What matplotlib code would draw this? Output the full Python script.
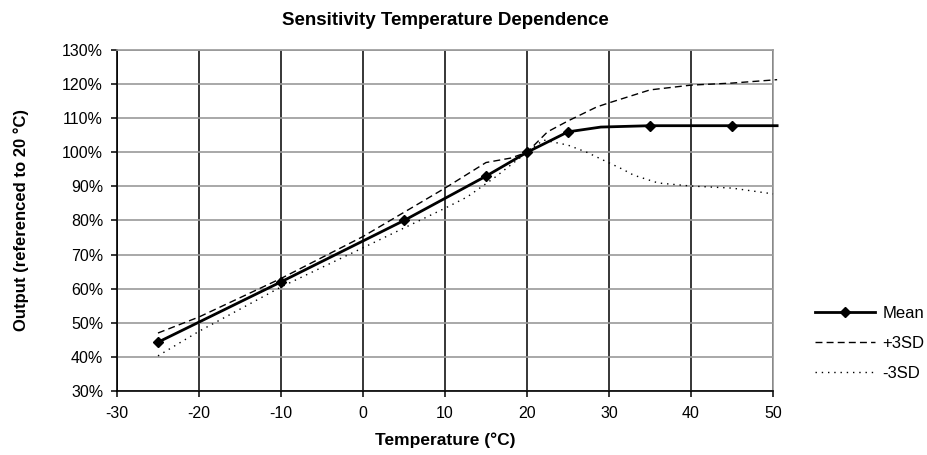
"""
Sensitivity temperature dependence chart (mean and +/-3SD)
"""
import matplotlib
matplotlib.use('Agg')
import matplotlib.pyplot as plt
from matplotlib.ticker import FuncFormatter, MultipleLocator

plt.rcParams['font.family'] = ['Liberation Sans', 'DejaVu Sans']
plt.rcParams['axes.unicode_minus'] = False

# Mean curve (markers on the measured points only)
mean_temp = [-25, -10, 5, 15, 20, 25, 29, 35, 45, 50.5]
mean_val = [44.3, 62, 80, 93, 100, 106, 107.4, 107.8, 107.8, 107.8]
mean_markers = [0, 1, 2, 3, 4, 5, 7, 8]

# +3SD curve
plus_temp = [-25, -20, -10, 0, 10, 12, 15, 18, 20, 22.5, 25, 28.5, 30, 35, 40, 45, 50.5]
plus_val = [47, 51.7, 63, 75.3, 89.5, 92.5, 97, 98.3, 100, 106, 109.2, 113.3,
            114.5, 118.3, 119.7, 120.3, 121.3]

# -3SD curve
minus_temp = [-25, -20, -10, 0, 10, 12.7, 16, 20, 22, 25, 27.3, 29.3, 31.6, 33,
              36, 40, 45, 50]
minus_val = [40.3, 47.5, 60.5, 72, 83.6, 86.9, 92.5, 100, 103.6, 102.1, 100, 97.7,
             95.1, 93.3, 91, 90.1, 89.5, 87.8]

fig = plt.figure(figsize=(9.27, 4.55), dpi=100)
ax = fig.add_axes([0.1262, 0.1407, 0.7077, 0.7494])

ax.set_xlim(-30, 50)
ax.set_ylim(30, 130)
ax.xaxis.set_major_locator(MultipleLocator(10))
ax.yaxis.set_major_locator(MultipleLocator(10))
ax.yaxis.set_major_formatter(FuncFormatter(lambda v, p: '%d%%' % round(v)))

# grid: gray horizontal, black vertical
ax.grid(axis='y', color='#999999', linewidth=1.2)
ax.grid(axis='x', color='black', linewidth=1.1)
ax.set_axisbelow(True)
for side in ['top', 'right']:
    ax.spines[side].set_color('#999999')
    ax.spines[side].set_linewidth(1.2)
for side in ['left', 'bottom']:
    ax.spines[side].set_color('black')
    ax.spines[side].set_linewidth(1.2)
ax.tick_params(direction='out', length=4, width=1.1, labelsize=11.5)
ax.tick_params(axis='x', pad=7)
ax.tick_params(axis='y', pad=6)

ax.plot(mean_temp, mean_val, color='black', linewidth=2, marker='D', markersize=5,
        markevery=mean_markers, label='Mean', clip_on=False, zorder=4)
ax.plot(plus_temp, plus_val, color='black', linewidth=1, dashes=(5, 3),
        label='+3SD', clip_on=False, zorder=3)
ax.plot(minus_temp, minus_val, color='black', linewidth=1, dashes=(1, 3.5),
        label='-3SD', clip_on=False, zorder=3)

ax.set_title('Sensitivity Temperature Dependence', fontsize=13.5, fontweight='bold', pad=18)
ax.set_xlabel('Temperature (\u00b0C)', fontsize=12.5, fontweight='bold', labelpad=8)
ax.set_ylabel('Output (referenced to 20 \u00b0C)', fontsize=12, fontweight='bold', labelpad=24)

fig.legend(loc='center left', bbox_to_anchor=(0.872, 0.246), frameon=False,
           fontsize=12, handlelength=3.6, handletextpad=0.45, labelspacing=0.9,
           borderaxespad=0)

fig.savefig('out.png', dpi=100, facecolor='white')
